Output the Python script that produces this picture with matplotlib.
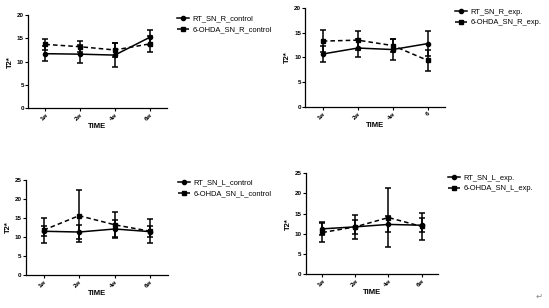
import matplotlib
matplotlib.use("Agg")
import matplotlib.pyplot as plt
from matplotlib.lines import Line2D
import numpy as np

plt.rcParams['font.family'] = ['Liberation Sans', 'DejaVu Sans']

x_labels_a = ["1w", "2w", "4w", "6w"]
x_labels_b = ["1w", "2w", "4w", "6"]

# Panel 1: R control
rt_r_ctrl = [11.7, 11.6, 11.4, 15.2]
rt_r_ctrl_err = [1.6, 2.0, 2.5, 1.7]
oh_r_ctrl = [13.7, 13.2, 12.5, 13.8]
oh_r_ctrl_err = [1.2, 1.2, 1.6, 1.7]

# Panel 2: R exp
rt_r_exp = [10.7, 11.9, 11.6, 12.8]
rt_r_exp_err = [1.6, 1.9, 2.1, 2.6]
oh_r_exp = [13.3, 13.5, 12.4, 9.4]
oh_r_exp_err = [2.3, 1.9, 1.4, 2.1]

# Panel 3: L control
rt_l_ctrl = [11.5, 11.3, 12.1, 11.4]
rt_l_ctrl_err = [1.3, 1.9, 2.3, 1.4]
oh_l_ctrl = [11.8, 15.6, 13.2, 11.5]
oh_l_ctrl_err = [3.3, 6.8, 3.3, 3.2]

# Panel 4: L exp
rt_l_exp = [11.2, 11.7, 12.3, 12.1]
rt_l_exp_err = [1.6, 1.7, 2.0, 1.8]
oh_l_exp = [10.3, 11.7, 14.0, 11.8]
oh_l_exp_err = [2.3, 3.0, 7.2, 3.3]

panels = [
    dict(rect=[0.051, 0.649, 0.253, 0.302], ymax=20, xl=x_labels_a,
         rt=rt_r_ctrl, rte=rt_r_ctrl_err, oh=oh_r_ctrl, ohe=oh_r_ctrl_err,
         names=("RT_SN_R_control", "6-OHDA_SN_R_control"), leg=(0.322, 0.950)),
    dict(rect=[0.556, 0.653, 0.255, 0.321], ymax=20, xl=x_labels_b,
         rt=rt_r_exp, rte=rt_r_exp_err, oh=oh_r_exp, ohe=oh_r_exp_err,
         names=("RT_SN_R_exp.", "6-OHDA_SN_R_exp."), leg=(0.829, 0.973)),
    dict(rect=[0.047, 0.107, 0.259, 0.309], ymax=25, xl=x_labels_a,
         rt=rt_l_ctrl, rte=rt_l_ctrl_err, oh=oh_l_ctrl, ohe=oh_l_ctrl_err,
         names=("RT_SN_L_control", "6-OHDA_SN_L_control"), leg=(0.324, 0.418)),
    dict(rect=[0.557, 0.110, 0.241, 0.328], ymax=25, xl=x_labels_a,
         rt=rt_l_exp, rte=rt_l_exp_err, oh=oh_l_exp, ohe=oh_l_exp_err,
         names=("RT_SN_L_exp.", "6-OHDA_SN_L_exp."), leg=(0.816, 0.434)),
]

fig = plt.figure(figsize=(5.49, 3.08), dpi=100)

dash = (0, (3, 2))
for p in panels:
    ax = fig.add_axes(p["rect"])
    xs = np.arange(len(p["xl"]))
    ax.errorbar(xs, p["rt"], yerr=p["rte"], color="black", lw=1.1,
                marker="o", ms=3, capsize=2, elinewidth=1.1, capthick=1.1,
                linestyle="-")
    ax.errorbar(xs, p["oh"], yerr=p["ohe"], color="black", lw=1.1,
                marker="s", ms=3, capsize=2, elinewidth=1.1, capthick=1.1,
                linestyle=dash)
    h1 = Line2D([], [], color="black", lw=1.1, marker="o", ms=3, linestyle="-")
    h2 = Line2D([], [], color="black", lw=1.1, marker="s", ms=3, linestyle=dash)
    ax.set_xlim(-0.5, 3.5)
    ax.set_ylim(0, p["ymax"])
    ax.set_yticks(np.arange(0, p["ymax"] + 1, 5))
    ax.set_xticks(xs)
    ax.set_xticklabels(p["xl"], rotation=45, ha="right", rotation_mode="anchor",
                       fontsize=4.5, fontweight="bold")
    for t in ax.get_yticklabels():
        t.set_fontsize(4.5)
        t.set_fontweight("bold")
    ax.tick_params(length=2, width=0.8, pad=1)
    for s in ["top", "right"]:
        ax.spines[s].set_visible(False)
    for s in ["left", "bottom"]:
        ax.spines[s].set_linewidth(0.9)
    ax.set_ylabel("T2*", fontsize=5.5, fontweight="bold", labelpad=2)
    ax.set_xlabel("TIME", fontsize=5.5, fontweight="bold", labelpad=1)
    ax.legend(handles=[h1, h2], labels=list(p["names"]), loc="upper left",
              bbox_to_anchor=p["leg"], bbox_transform=fig.transFigure,
              frameon=False, fontsize=5.4, borderpad=0, borderaxespad=0,
              handlelength=1.6, handletextpad=0.5, labelspacing=0.45)

fig.text(0.975, 0.03, "\u21b5", fontsize=6, color="#888888",
         family=["DejaVu Sans"])

fig.savefig("out.png", dpi=100)
